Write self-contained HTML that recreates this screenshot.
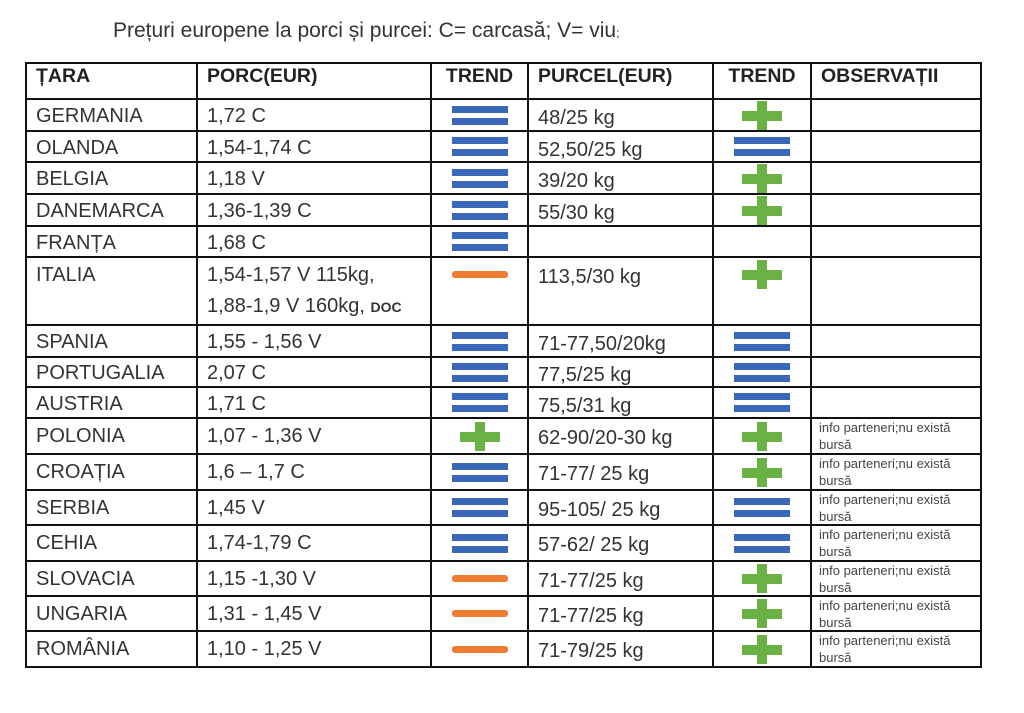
<!DOCTYPE html>
<html><head><meta charset="utf-8">
<style>
html,body{margin:0;padding:0;background:#fff;width:1024px;height:713px;overflow:hidden;position:relative;font-family:"Liberation Sans",sans-serif;color:#333;}
.t{position:absolute;white-space:nowrap;}
.ln{position:absolute;background:#111;}
.eq{position:absolute;width:56px;height:19px;}
.eq:before,.eq:after{content:"";position:absolute;left:0;width:56px;height:7px;background:#3a67b8;}
.eq:before{top:0}.eq:after{top:12px}
.pl{position:absolute;width:40px;height:29px;}
.pl:before{content:"";position:absolute;left:0;top:10px;width:40px;height:10px;background:#6ab244;}
.pl:after{content:"";position:absolute;left:15px;top:0;width:10px;height:29px;background:#6ab244;}
.mi{position:absolute;width:56px;height:7px;background:#ee7b30;border-radius:3px;}
.obs{font-size:13px;line-height:17px;color:#444;}
.v{font-size:20px;line-height:24px;}
</style></head><body>
<div class="t" style="left:113px;top:19px;font-size:21px;">Prețuri europene la porci și purcei: C= carcasă; V= viu<span style="font-size:12px">;</span></div>
<div id="tbl"></div>
<script>
const countries=["GERMANIA","OLANDA","BELGIA","DANEMARCA","FRANȚA","ITALIA","SPANIA","PORTUGALIA","AUSTRIA","POLONIA","CROAȚIA","SERBIA","CEHIA","SLOVACIA","UNGARIA","ROMÂNIA"];
const porc=["1,72 C","1,54-1,74 C","1,18 V","1,36-1,39 C","1,68 C","1,54-1,57 V 115kg,|1,88-1,9 V 160kg, <b style='font-size:14px'>DOC</b>","1,55 - 1,56 V","2,07 C","1,71 C","1,07 - 1,36 V","1,6 – 1,7 C","1,45 V","1,74-1,79 C","1,15 -1,30 V","1,31 - 1,45 V","1,10 - 1,25 V"];
const trendPorc=["eq","eq","eq","eq","eq","mi","eq","eq","eq","pl","eq","eq","eq","mi","mi","mi"];
const purcel=["48/25 kg","52,50/25 kg","39/20 kg","55/30 kg","","113,5/30 kg","71-77,50/20kg","77,5/25 kg","75,5/31 kg","62-90/20-30 kg","71-77/ 25 kg","95-105/ 25 kg","57-62/ 25 kg","71-77/25 kg","71-77/25 kg","71-79/25 kg"];
const trendPurcel=["pl","eq","pl","pl","","pl","eq","eq","eq","pl","pl","eq","eq","pl","pl","pl"];
const obs=["","","","","","","","","","x","x","x","x","x","x","x"];
const rowY=[63,99,131,162,194,226,257,325,357,387,418,454,490,525,561,596,631,667];
const colX=[26,197,431,528,713,811,981];
const tbl=document.getElementById('tbl');
function add(cls,x,y,html,name,style){const d=document.createElement('div');d.className=cls;d.style.left=x+'px';d.style.top=y+'px';if(style)d.style.cssText+=style;if(html)d.innerHTML=html;


tbl.appendChild(d);return d;}
rowY.forEach((y,i)=>{add('ln',colX[0]-1,y-1,'','row-line','width:'+(colX[6]-colX[0]+2)+'px;height:2px;');});
colX.forEach((x,i)=>{add('ln',x-1,rowY[0]-1,'','col-line','width:2px;height:'+(rowY[17]-rowY[0]+1)+'px;');});
const hdr=["ȚARA","PORC(EUR)","TREND","PURCEL(EUR)","TREND","OBSERVAȚII"];
hdr.forEach((h,i)=>{const cx=(i==2||i==4);add('t',cx?colX[i]:colX[i]+10,rowY[0]+2,h,'header-'+h.toLowerCase().replace(/[^a-z]/g,''),'font-size:19.5px;font-weight:bold;color:#222;'+(cx?'width:'+(colX[i+1]-colX[i])+'px;text-align:center;':''));});
function icon(type,col,y0,y1,name){if(!type)return;const cx=(colX[col]+colX[col+1])/2;let h=type=='eq'?19:type=='pl'?29:7;let y=(y1-y0>40)?y0+(32-h)/2+1:y0+(y1-y0-h)/2;let w=type=='pl'?40:56;add(type,cx-w/2,y,'',name);}
countries.forEach((c,i)=>{const y0=rowY[i+1],y1=rowY[i+2];const hh=Math.min(y1-y0,33);const ty=y0+(hh-24)/2+1;
add('t v',colX[0]+10,ty,c,'country-'+c.toLowerCase(),'');
const p=porc[i].split('|');add('t v',colX[1]+10,ty,p.join('<br>'),'porc-price','line-height:31px;margin-top:-3px;');
icon(trendPorc[i],2,y0,y1,'porc-trend-icon');
if(purcel[i])add('t v',colX[3]+10,ty+2,purcel[i],'purcel-price','');
icon(trendPurcel[i],4,y0,y1,'purcel-trend-icon');
if(obs[i])add('t obs',colX[5]+8,y0+1,'info parteneri;nu există<br>bursă','observation-note','');
});
</script>
</body></html>
